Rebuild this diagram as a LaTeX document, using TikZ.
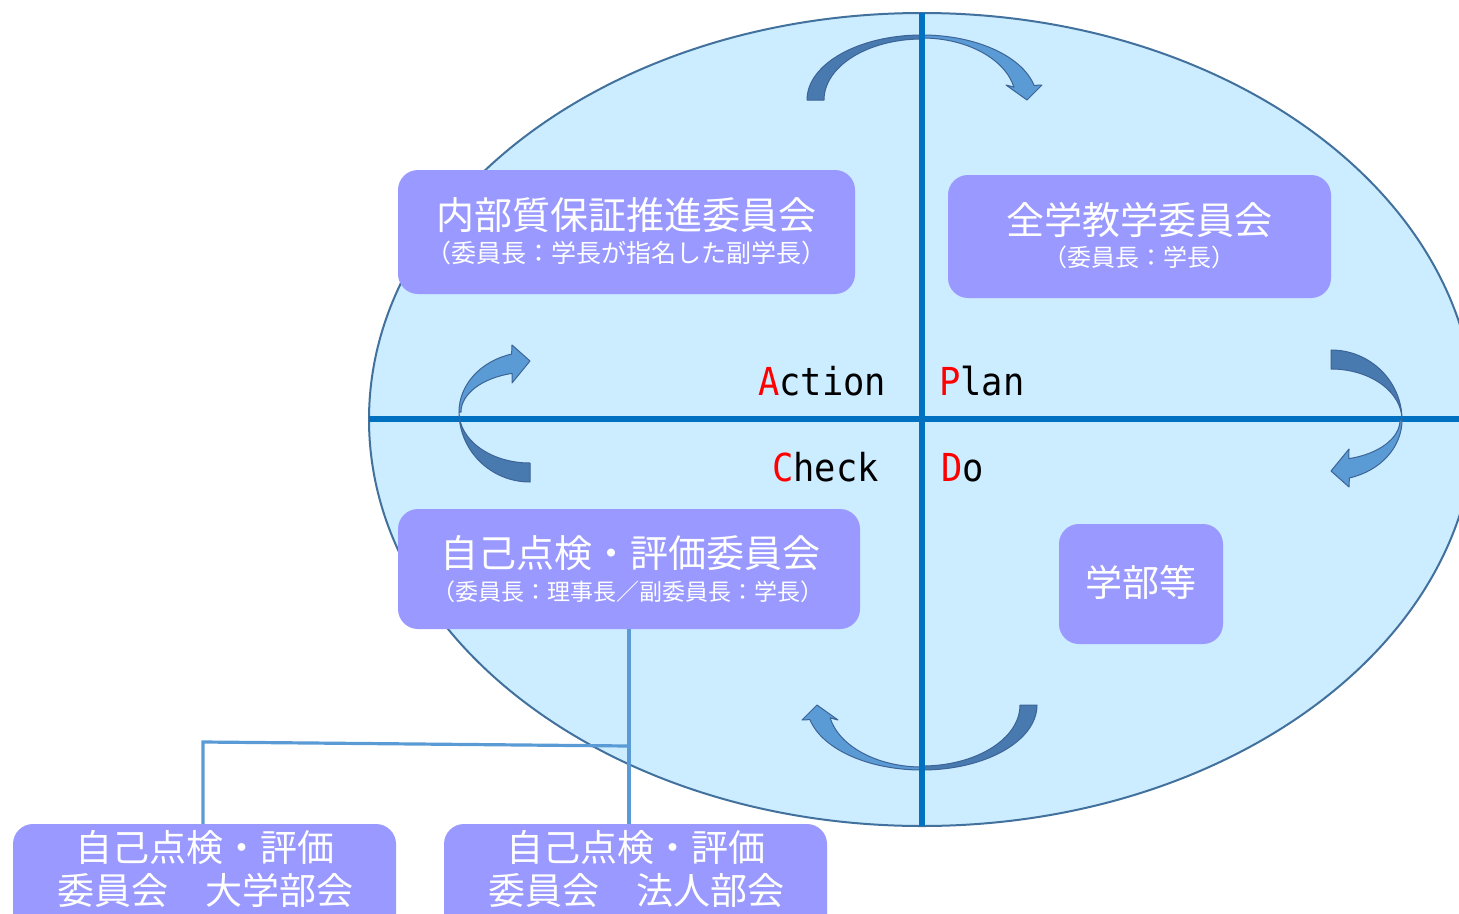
\documentclass[tikz,border=0pt]{standalone}
\usepackage{fontspec}
\setmainfont{Noto Sans CJK JP}
\newfontfamily\pdcafont[FakeStretch=0.92]{DejaVu Sans Mono}
\definecolor{ellfill}{RGB}{204,236,255}
\definecolor{ellline}{RGB}{65,113,156}
\definecolor{axisblue}{RGB}{0,112,192}
\definecolor{boxfill}{RGB}{153,153,255}
\definecolor{connblue}{RGB}{91,155,213}
\definecolor{arrdark}{RGB}{72,122,176}
\definecolor{arrlight}{RGB}{91,155,213}
\definecolor{arrline}{RGB}{60,100,150}
\definecolor{pdcared}{RGB}{255,0,0}
\begin{document}
\begin{tikzpicture}[x=1pt,y=-1pt,
  box/.style={rounded corners=20pt, fill=boxfill, draw=none, inner sep=0pt},
  ttl/.style={text=white, inner sep=0pt, font=\fontsize{38}{44}\selectfont},
  subt/.style={text=white, inner sep=0pt, font=\fontsize{24}{28}\selectfont},
  axisline/.style={line width=5.5pt, draw=axisblue},
  conn/.style={line width=3.2pt, draw=connblue},
  darkpart/.style={fill=arrdark, draw=arrline, line width=1pt, line join=round},
  lightpart/.style={fill=arrlight, draw=arrline, line width=1pt, line join=round},
  pdca/.style={font=\pdcafont\fontsize{38.5}{40}\selectfont, inner sep=0pt, anchor=base west},
  toparr/.pic={
    \path[lightpart] (0,-65) arc[start angle=270,end angle=347,x radius=115,y radius=65]
      -- (120,-15) -- (105,0) -- (84,-15) -- (348:94 and 62)
      arc[start angle=348,end angle=270,x radius=94,y radius=62] -- cycle;
    \path[darkpart] (-115,0) arc[start angle=180,end angle=270,x radius=115,y radius=65]
      -- (0,-61) arc[start angle=270,end angle=180,x radius=98,y radius=61] -- cycle;
  },
  sidearr/.pic={
    \path[lightpart] (71,0) arc[start angle=0,end angle=75,x radius=71,y radius=60]
      -- (18,67) -- (0,51) -- (18,29) -- (75:69 and 40)
      arc[start angle=75,end angle=0,x radius=69,y radius=40] -- cycle;
    \path[darkpart] (0,-70) arc[start angle=270,end angle=360,x radius=71,y radius=70]
      arc[start angle=0,end angle=-90,x radius=71,y radius=51] -- cycle;
  }]
\useasboundingbox (0,0) rectangle (1459,913);
\clip (0,0) rectangle (1459,913);
% ellipse
\filldraw[fill=ellfill, draw=ellline, line width=2pt] (922,419.5) ellipse [x radius=553, y radius=406.5];
% horizontal axis
\coordinate (hl) at (369,419);
\coordinate (hr) at (1459,419);
\draw[axisline] (hl) -- (hr);
% curved arrows
\pic at (922,100) {toparr};
\pic[rotate=180] at (922,705) {toparr};
\pic at (1331,420) {sidearr};
\pic[rotate=180] at (530,412) {sidearr};
% vertical axis
\coordinate (vt) at (922,13);
\coordinate (vb) at (922,826);
\draw[axisline] (vt) -- (vb);
% PDCA labels
\node[pdca] (act) at (758,395) {\textcolor{pdcared}{A}ction};
\node[pdca] (pln) at (939,395) {\textcolor{pdcared}{P}lan};
\node[pdca] (chkl) at (772,481) {\textcolor{pdcared}{C}heck};
\node[pdca] (dol) at (941,481) {\textcolor{pdcared}{D}o};
% boxes
\node[box, minimum width=457pt, minimum height=124pt] (b1) at (626.5,232) {};
\node[ttl] (t1a) at (626,215) {内部質保証推進委員会};
\node[subt, font=\fontsize{25}{28}\selectfont] (t1b) at (626,253) {（委員長：学長が指名した副学長）};
\node[box, minimum width=383pt, minimum height=123pt] (b2) at (1139.5,236.5) {};
\node[ttl] (t2a) at (1139,220) {全学教学委員会};
\node[subt] (t2b) at (1139,257) {（委員長：学長）};
\node[box, minimum width=462pt, minimum height=120pt] (b3) at (629,569) {};
\node[ttl] (t3a) at (630,553) {自己点検・評価委員会};
\node[subt, font=\fontsize{23}{28}\selectfont] (t3b) at (628,592) {（委員長：理事長／副委員長：学長）};
\node[box, minimum width=164pt, minimum height=120pt] (b4) at (1141,584) {};
\node[ttl, font=\fontsize{37}{44}\selectfont] (t4) at (1141,582) {学部等};
\node[box, minimum width=383pt, minimum height=116pt] (b5) at (204.5,882) {};
\node[ttl, font=\fontsize{37}{44}\selectfont] (t5a) at (205,847) {自己点検・評価};
\node[ttl, font=\fontsize{37}{44}\selectfont] (t5b) at (205,890) {委員会　大学部会};
\node[box, minimum width=383pt, minimum height=116pt] (b6) at (635.5,882) {};
\node[ttl, font=\fontsize{37}{44}\selectfont] (t6a) at (636,847) {自己点検・評価};
\node[ttl, font=\fontsize{37}{44}\selectfont] (t6b) at (636,890) {委員会　法人部会};
% connectors
\coordinate (j) at (629,746);
\coordinate (k) at (203,742);
\draw[conn] (b3.south -| j) -- (b6.north -| j);
\draw[conn] (j) -- (k) -- (k |- b5.north);
\end{tikzpicture}
\end{document}
